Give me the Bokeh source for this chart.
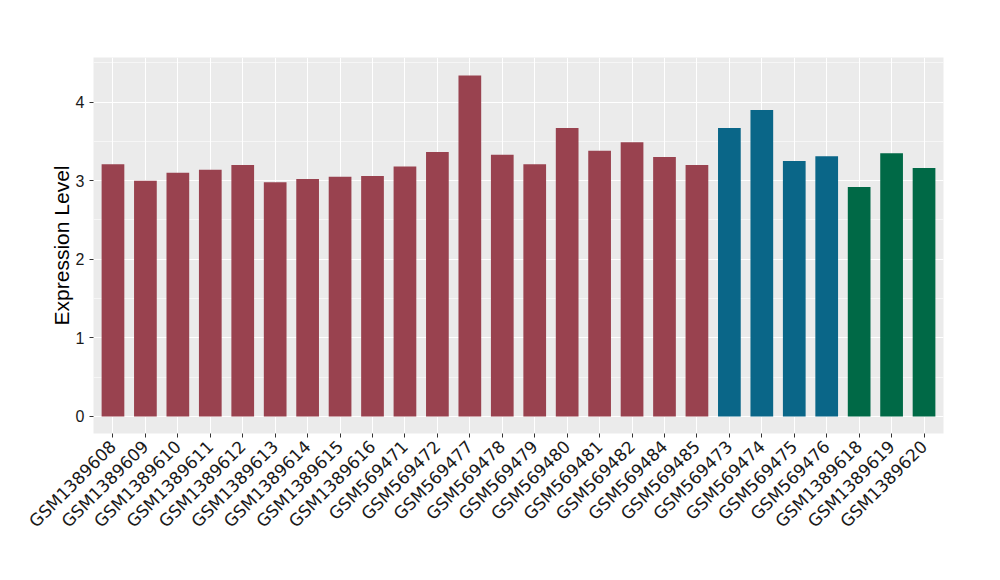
import math
from bokeh.plotting import figure
from bokeh.models import ColumnDataSource, FactorRange, Range1d, SingleIntervalTicker
from bokeh.transform import factor_cmap
from bokeh.embed import file_html
from bokeh.resources import INLINE

samples = ["GSM1389608", "GSM1389609", "GSM1389610", "GSM1389611", "GSM1389612",
           "GSM1389613", "GSM1389614", "GSM1389615", "GSM1389616", "GSM569471",
           "GSM569472", "GSM569477", "GSM569478", "GSM569479", "GSM569480",
           "GSM569481", "GSM569482", "GSM569484", "GSM569485", "GSM569473",
           "GSM569474", "GSM569475", "GSM569476", "GSM1389618", "GSM1389619",
           "GSM1389620"]
values = [3.21, 3.00, 3.10, 3.14, 3.20, 2.98, 3.02, 3.05, 3.06, 3.18,
          3.365, 4.34, 3.33, 3.21, 3.67, 3.38, 3.49, 3.30, 3.20,
          3.67, 3.90, 3.25, 3.31, 2.92, 3.35, 3.16]
groups = ["g1"] * 19 + ["g2"] * 4 + ["g3"] * 3
group_names = ["g1", "g2", "g3"]
group_colors = ["#99424F", "#0A6688", "#006946"]

source = ColumnDataSource(dict(sample=samples, value=values, group=groups))

p = figure(width=984, height=564, output_backend="svg", toolbar_location=None,
           x_range=FactorRange(factors=samples, range_padding=0.1, range_padding_units="absolute"),
           y_range=Range1d(-0.2175, 4.5675),
           min_border_left=93, min_border_right=41, min_border_top=57, min_border_bottom=131)

p.vbar(x="sample", top="value", width=0.7, source=source,
       fill_color=factor_cmap("group", palette=group_colors, factors=group_names),
       line_color=None)

p.background_fill_color = "#EBEBEB"
p.border_fill_color = "white"
p.outline_line_color = None

p.yaxis.ticker = SingleIntervalTicker(interval=1, num_minor_ticks=2)
p.ygrid.grid_line_color = "white"
p.ygrid.grid_line_width = 1.1
p.ygrid.minor_grid_line_color = "white"
p.ygrid.minor_grid_line_width = 0.55
p.xgrid.grid_line_color = "white"
p.xgrid.grid_line_width = 1.1

for ax in (p.xaxis, p.yaxis):
    ax.axis_line_color = None
    ax.major_tick_line_color = "#333333"
    ax.major_tick_out = 4
    ax.major_tick_in = 0
    ax.minor_tick_line_color = None
    ax.major_label_text_color = "#1A1A1A"

p.yaxis.major_label_text_font = "Liberation Sans"
p.yaxis.major_label_text_font_size = "16px"
p.yaxis.axis_label = "Expression Level"
p.yaxis.axis_label_text_font = "Liberation Sans"
p.yaxis.axis_label_text_font_style = "normal"
p.yaxis.axis_label_text_font_size = "21px"
p.yaxis.axis_label_text_color = "black"
p.yaxis.axis_label_standoff = 0

p.xaxis.major_label_orientation = math.pi / 4
p.xaxis.major_label_text_font = "DejaVu Sans"
p.xaxis.major_label_text_font_size = "17px"
p.xaxis.major_label_standoff = 6
p.xaxis.group_text_font_size = "0px"

open("out.html", "w").write(file_html(p, INLINE))
